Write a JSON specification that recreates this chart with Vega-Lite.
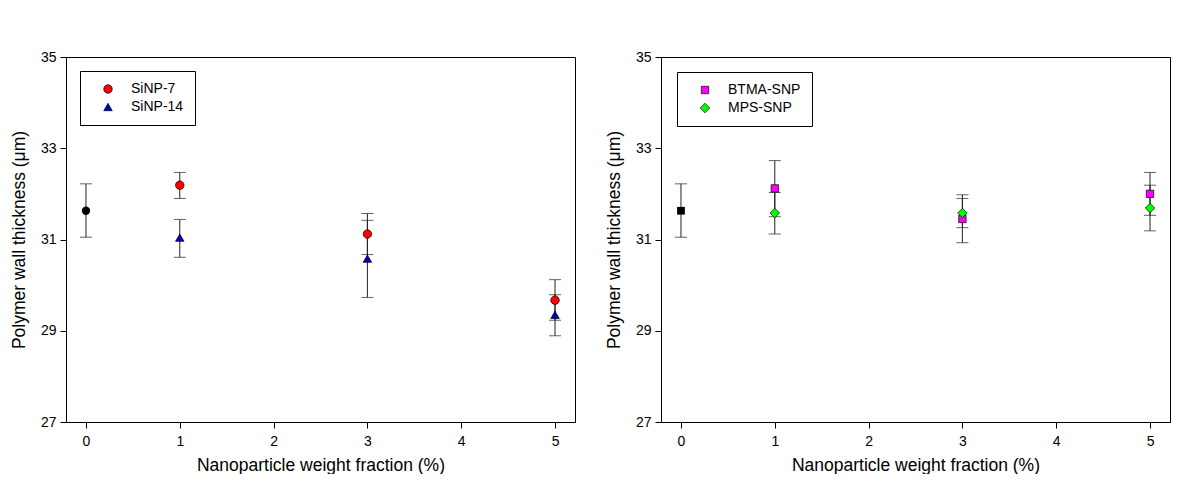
{
  "$schema": "https://vega.github.io/schema/vega-lite/v6.json",
  "background": "white",
  "padding": {"left": 9, "top": 49, "right": 0, "bottom": 0},
  "spacing": 28,
  "data": {"values": [
    {"panel": "A", "series": "Control", "x": 0, "y": 31.63, "lo": 31.05, "hi": 32.22},
    {"panel": "A", "series": "SiNP-7", "x": 1, "y": 32.19, "lo": 31.90, "hi": 32.47},
    {"panel": "A", "series": "SiNP-7", "x": 3, "y": 31.12, "lo": 30.67, "hi": 31.57},
    {"panel": "A", "series": "SiNP-7", "x": 5, "y": 29.67, "lo": 29.23, "hi": 30.12},
    {"panel": "A", "series": "SiNP-14", "x": 1, "y": 31.04, "lo": 30.61, "hi": 31.44},
    {"panel": "A", "series": "SiNP-14", "x": 3, "y": 30.58, "lo": 29.73, "hi": 31.42},
    {"panel": "A", "series": "SiNP-14", "x": 5, "y": 29.35, "lo": 28.89, "hi": 29.79},
    {"panel": "B", "series": "Control", "x": 0, "y": 31.63, "lo": 31.05, "hi": 32.22},
    {"panel": "B", "series": "BTMA-SNP", "x": 1, "y": 32.12, "lo": 31.50, "hi": 32.73},
    {"panel": "B", "series": "BTMA-SNP", "x": 3, "y": 31.45, "lo": 30.93, "hi": 31.98},
    {"panel": "B", "series": "BTMA-SNP", "x": 5, "y": 32.00, "lo": 31.53, "hi": 32.47},
    {"panel": "B", "series": "MPS-SNP", "x": 1, "y": 31.58, "lo": 31.12, "hi": 32.03},
    {"panel": "B", "series": "MPS-SNP", "x": 3, "y": 31.58, "lo": 31.26, "hi": 31.90},
    {"panel": "B", "series": "MPS-SNP", "x": 5, "y": 31.69, "lo": 31.19, "hi": 32.19}
  ]},
  "resolve": {"scale": {"color": "independent", "shape": "independent", "size": "independent"}, "legend": {"color": "independent", "shape": "independent", "size": "independent"}},
  "hconcat": [
    {
      "width": 509, "height": 365,
      "transform": [{"filter": "datum.panel === 'A'"}],
      "layer": [
        {
          "mark": {"type": "errorbar", "ticks": {"size": 12, "color": "#222222"}, "rule": {"color": "#222222"}, "color": "#222222"},
          "encoding": {
            "x": {"field": "x", "type": "quantitative", "scale": {"domain": [-0.213, 5.213], "nice": false, "zero": false}, "axis": {"values": [0, 1, 2, 3, 4, 5], "format": "d", "title": "Nanoparticle weight fraction (%)"}},
            "y": {"field": "lo", "type": "quantitative", "scale": {"domain": [27, 35], "nice": false, "zero": false}, "axis": {"values": [27, 29, 31, 33, 35], "title": "Polymer wall thickness (μm)"}},
            "y2": {"field": "hi"}
          }
        },
        {
          "transform": [{"filter": "datum.series === 'Control'"}],
          "mark": {"type": "point", "filled": true, "shape": "circle", "size": 70, "color": "black", "opacity": 1},
          "encoding": {
            "x": {"field": "x", "type": "quantitative"},
            "y": {"field": "y", "type": "quantitative"}
          }
        },
        {
          "transform": [{"filter": "datum.series !== 'Control'"}],
          "mark": {"type": "point", "filled": true, "size": 72, "stroke": "black", "strokeWidth": 0.7, "opacity": 1},
          "encoding": {
            "x": {"field": "x", "type": "quantitative"},
            "y": {"field": "y", "type": "quantitative"},
            "color": {"field": "series", "type": "nominal", "scale": {"domain": ["SiNP-7", "SiNP-14"], "range": ["#FF0000", "#0000CC"]}, "legend": {"title": null, "orient": "none", "legendX": 14, "legendY": 14, "symbolSize": 72}},
            "shape": {"field": "series", "type": "nominal", "scale": {"domain": ["SiNP-7", "SiNP-14"], "range": ["circle", "triangle-up"]}, "legend": {"title": null, "orient": "none", "legendX": 14, "legendY": 14, "symbolSize": 72}}
          }
        }
      ]
    },
    {
      "width": 509, "height": 365,
      "transform": [{"filter": "datum.panel === 'B'"}],
      "layer": [
        {
          "mark": {"type": "errorbar", "ticks": {"size": 12, "color": "#222222"}, "rule": {"color": "#222222"}, "color": "#222222"},
          "encoding": {
            "x": {"field": "x", "type": "quantitative", "scale": {"domain": [-0.213, 5.213], "nice": false, "zero": false}, "axis": {"values": [0, 1, 2, 3, 4, 5], "format": "d", "title": "Nanoparticle weight fraction (%)"}},
            "y": {"field": "lo", "type": "quantitative", "scale": {"domain": [27, 35], "nice": false, "zero": false}, "axis": {"values": [27, 29, 31, 33, 35], "title": "Polymer wall thickness (μm)"}},
            "y2": {"field": "hi"}
          }
        },
        {
          "transform": [{"filter": "datum.series === 'Control'"}],
          "mark": {"type": "point", "filled": true, "shape": "square", "size": 60, "color": "black", "opacity": 1},
          "encoding": {
            "x": {"field": "x", "type": "quantitative"},
            "y": {"field": "y", "type": "quantitative"}
          }
        },
        {
          "transform": [{"filter": "datum.series !== 'Control'"}],
          "mark": {"type": "point", "filled": true, "stroke": "black", "strokeWidth": 0.7, "opacity": 1},
          "encoding": {
            "x": {"field": "x", "type": "quantitative"},
            "y": {"field": "y", "type": "quantitative"},
            "color": {"field": "series", "type": "nominal", "scale": {"domain": ["BTMA-SNP", "MPS-SNP"], "range": ["#FF00FF", "#00FF00"]}, "legend": {"title": null, "orient": "none", "legendX": 16, "legendY": 15}},
            "shape": {"field": "series", "type": "nominal", "scale": {"domain": ["BTMA-SNP", "MPS-SNP"], "range": ["square", "diamond"]}, "legend": {"title": null, "orient": "none", "legendX": 16, "legendY": 15}},
            "size": {"field": "series", "type": "nominal", "scale": {"domain": ["BTMA-SNP", "MPS-SNP"], "range": [55, 90]}, "legend": null}
          }
        }
      ]
    }
  ],
  "config": {
    "font": "Liberation Sans",
    "view": {"stroke": "black", "strokeWidth": 1},
    "axis": {"grid": false, "domainColor": "black", "tickColor": "black", "labelColor": "black", "titleColor": "black", "labelFont": "Liberation Sans", "titleFont": "Liberation Sans", "labelFontSize": 14, "titleFontSize": 17.5, "titleFontWeight": "normal", "tickSize": 6, "domainWidth": 1, "tickWidth": 1},
    "axisX": {"labelPadding": 6, "titlePadding": 8},
    "axisY": {"labelPadding": 4, "titlePadding": 12},
    "legend": {"strokeColor": "black", "padding": 11, "symbolOffset": 10, "labelFontSize": 14, "labelFont": "Liberation Sans", "labelColor": "black", "rowPadding": 4, "labelOffset": 16, "symbolStrokeColor": "black", "symbolStrokeWidth": 0.7, "fillColor": "white"}
  }
}
